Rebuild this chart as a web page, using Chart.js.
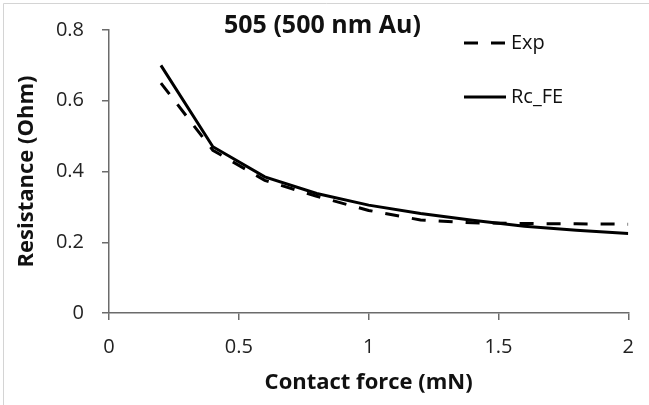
<!DOCTYPE html>
<html>
<head>
<meta charset="utf-8">
<script src="https://cdn.jsdelivr.net/npm/chart.js@4.4.0/dist/chart.umd.min.js"></script>
<style>
  body { margin: 0; background: #fff; }
  canvas { display: block; }
</style>
</head>
<body>
<canvas id="myChart" width="649" height="405"></canvas>
<script>
const ctx = document.getElementById('myChart').getContext('2d');

// contact force steps (mN)
const force = [0.2, 0.4, 0.6, 0.8, 1.0, 1.2, 1.4, 1.6, 1.8, 2.0];
// measured resistance (Ohm)
const expVals = [0.65, 0.46, 0.375, 0.33, 0.29, 0.263, 0.255, 0.253, 0.252, 0.251];
// FE contact resistance (Ohm)
const rcFeVals = [0.70, 0.47, 0.385, 0.338, 0.305, 0.281, 0.262, 0.245, 0.234, 0.225];

const xTicks = [0, 0.5, 1, 1.5, 2];
const yTicks = [0, 0.2, 0.4, 0.6, 0.8];

const titleText = '505 (500 nm Au)';
const fontFamily = '"Open Sans", sans-serif';
const axisColor = '#6b6b6b';

function toPoints(vals) {
  return force.map((f, i) => ({ x: f, y: vals[i] }));
}

// frame, title and the legend sit inside the plot, so draw them by hand
const extras = {
  id: 'extras',
  beforeDraw(chart) {
    const c = chart.ctx;
    c.save();
    c.fillStyle = '#fff';
    c.fillRect(0, 0, chart.width, chart.height);
    c.strokeStyle = '#d4d4d4';
    c.lineWidth = 1;
    c.beginPath();
    c.moveTo(3.5, chart.height);
    c.lineTo(3.5, 3.5);
    c.lineTo(chart.width, 3.5);
    c.stroke();
    c.restore();
  },
  afterDraw(chart) {
    const c = chart.ctx;
    c.save();
    c.fillStyle = '#111';
    c.font = 'bold 25px ' + fontFamily;
    c.textBaseline = 'middle';
    c.textAlign = 'left';
    c.fillText(titleText, 224, 26);

    c.font = '20px ' + fontFamily;
    const rows = [43, 97];
    chart.data.datasets.forEach((ds, i) => {
      const y = rows[i];
      c.strokeStyle = ds.borderColor;
      c.lineWidth = ds.borderWidth;
      c.setLineDash(ds.borderDash || []);
      c.beginPath();
      c.moveTo(464, y);
      c.lineTo(506, y);
      c.stroke();
      c.setLineDash([]);
      c.fillText(ds.label, 511, y);
    });
    c.restore();
  }
};

const data = {
  datasets: [{
    label: 'Exp',
    data: toPoints(expVals),
    borderColor: '#000',
    borderWidth: 3,
    borderDash: [14, 13],
    pointRadius: 0,
    fill: false
  }, {
    label: 'Rc_FE',
    data: toPoints(rcFeVals),
    borderColor: '#000',
    borderWidth: 3,
    pointRadius: 0,
    fill: false
  }]
};

const numLabel = v => String(Math.round(v * 10) / 10);

const config = {
  type: 'line',
  data: data,
  plugins: [extras],
  options: {
    responsive: false,
    animation: false,
    layout: { padding: { left: 4, right: 19, top: 27, bottom: 0 } },
    plugins: {
      legend: { display: false },
      tooltip: { enabled: false }
    },
    scales: {
      x: {
        type: 'linear',
        min: 0,
        max: 2,
        afterBuildTicks: s => { s.ticks = xTicks.map(v => ({ value: v })); },
        afterFit: s => { s.height = 92; },
        border: { color: axisColor, width: 1.5 },
        grid: { drawOnChartArea: false, drawTicks: true, tickLength: 7, color: axisColor, lineWidth: 1.5 },
        ticks: { color: '#222', padding: 15, maxRotation: 0, font: { family: fontFamily, size: 20 }, callback: numLabel },
        title: {
          display: true,
          text: 'Contact force (mN)',
          color: '#111',
          padding: { top: 0, bottom: 9 },
          font: { family: fontFamily, size: 22, weight: 'bold' }
        }
      },
      y: {
        min: 0,
        max: 0.8,
        afterBuildTicks: s => { s.ticks = yTicks.map(v => ({ value: v })); },
        afterFit: s => { s.width = 105; },
        border: { color: axisColor, width: 1.5 },
        grid: { drawOnChartArea: false, drawTicks: true, tickLength: 7, color: axisColor, lineWidth: 1.5 },
        ticks: {
          color: '#222',
          padding: 18,
          font: { family: fontFamily, size: 20 },
          callback: numLabel
        },
        title: {
          display: true,
          text: 'Resistance (Ohm)',
          color: '#111',
          padding: { top: 10, bottom: 0 },
          font: { family: fontFamily, size: 22, weight: 'bold' }
        }
      }
    }
  }
};

const myChart = new Chart(ctx, config);
</script>
</body>
</html>
